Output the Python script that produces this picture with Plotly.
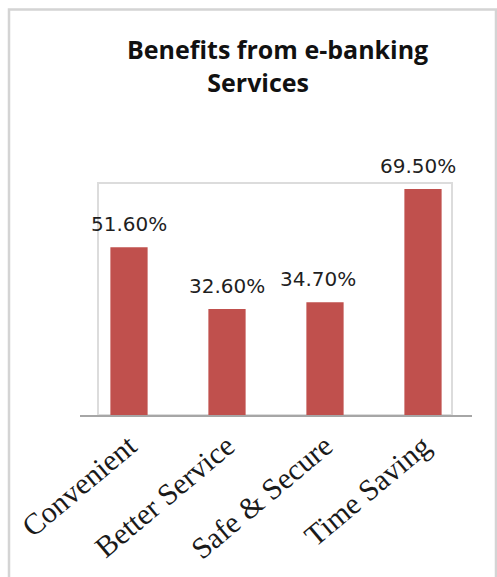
import plotly.graph_objects as go

categories = ["Convenient", "Better Service", "Safe & Secure", "Time Saving"]
values = [51.6, 32.6, 34.7, 69.5]
value_labels = ["51.60%", "32.60%", "34.70%", "69.50%"]
label_xshift = [0, 0, -7, -5]
title_lines = ["Benefits from e-banking", "Services"]

W, H = 497, 577
L, R, T, B = 80, 25, 183, 160
PW = W - L - R
PH = H - T - B

def px(x):
    return (x - L) / PW

def py(y):
    return (H - B - y) / PH

fig = go.Figure()
fig.add_trace(go.Bar(
    x=categories, y=values, width=0.38,
    marker=dict(color="#C0504D", line=dict(width=0)),
    hoverinfo="skip",
))

annotations = []
for c, v, t, dx in zip(categories, values, value_labels, label_xshift):
    annotations.append(dict(
        x=c, y=v, text=t, showarrow=False, xref="x", yref="y",
        yanchor="bottom", yshift=9, xshift=dx,
        font=dict(family="DejaVu Sans", size=20, color="#1f1f1f"),
    ))

title_text = title_lines[0] + "<br>" + title_lines[1] + "&nbsp;" * 6
annotations.append(dict(
    x=px(277), y=py(64), xref="paper", yref="paper", text=title_text,
    showarrow=False, xanchor="center", yanchor="middle", align="center",
    font=dict(family="Open Sans", size=25, color="#111111", weight="bold"),
))

shapes = [
    # outer frame
    dict(type="rect", xref="paper", yref="paper",
         x0=px(9), x1=px(496), y0=py(8), y1=py(600),
         line=dict(color="#d4d4d4", width=2.5), fillcolor="rgba(0,0,0,0)", layer="below"),
    # inner plot box
    dict(type="rect", xref="paper", yref="paper",
         x0=px(98), x1=px(452), y0=py(417), y1=py(183),
         line=dict(color="#dcdcdc", width=2), fillcolor="rgba(0,0,0,0)", layer="below"),
]

fig.update_layout(
    width=W, height=H,
    margin=dict(l=L, r=R, t=T, b=B, pad=0),
    paper_bgcolor="white", plot_bgcolor="white",
    showlegend=False,
    bargap=0.62,
    annotations=annotations,
    shapes=shapes,
    xaxis=dict(
        range=[-0.5, 3.5],
        showline=True, linecolor="#a6a6a6", linewidth=1.5,
        showgrid=False, ticks="", tickangle=-40,
        tickfont=dict(family="Liberation Serif", size=30, color="#1a1a1a"),
    ),
    yaxis=dict(
        range=[0, 71.34], visible=False, showgrid=False,
    ),
)

fig.write_html("out.html")
